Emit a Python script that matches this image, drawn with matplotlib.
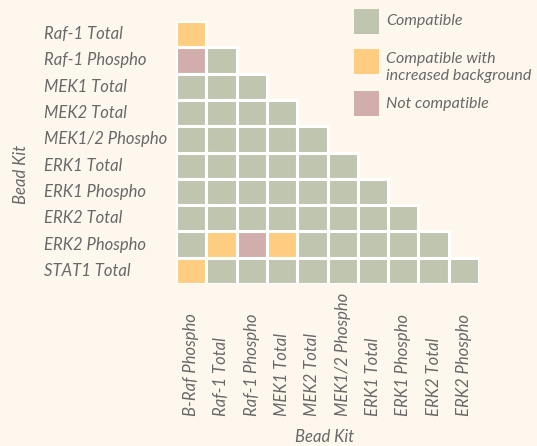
import matplotlib.pyplot as plt
from matplotlib.patches import Rectangle
from matplotlib.transforms import blended_transform_factory

# Data
row_labels = ['Raf-1 Total', 'Raf-1 Phospho', 'MEK1 Total', 'MEK2 Total', 'MEK1/2 Phospho',
              'ERK1 Total', 'ERK1 Phospho', 'ERK2 Total', 'ERK2 Phospho', 'STAT1 Total']
col_labels = ['B-Raf Phospho', 'Raf-1 Total', 'Raf-1 Phospho', 'MEK1 Total', 'MEK2 Total',
              'MEK1/2 Phospho', 'ERK1 Total', 'ERK1 Phospho', 'ERK2 Total', 'ERK2 Phospho']
# 0 = compatible, 1 = increased background, 2 = not compatible (lower triangle only)
status = [
    [1],
    [2, 0],
    [0, 0, 0],
    [0, 0, 0, 0],
    [0, 0, 0, 0, 0],
    [0, 0, 0, 0, 0, 0],
    [0, 0, 0, 0, 0, 0, 0],
    [0, 0, 0, 0, 0, 0, 0, 0],
    [0, 1, 2, 1, 0, 0, 0, 0, 0],
    [1, 0, 0, 0, 0, 0, 0, 0, 0, 0],
]
legend_labels = ['Compatible', 'Compatible with\nincreased background', 'Not compatible']
colors = ['#c0c5b0', '#fecd81', '#d1aeab']

txt_color = '#686868'
font = dict(family='Lato', style='italic', weight='normal', color=txt_color)
fs = 12

W, H = 537, 446
fig = plt.figure(figsize=(W / 100, H / 100), dpi=100)
fig.patch.set_facecolor('#fdf7ee')

ax = fig.add_axes([176 / W, 1 - 284 / H, 303 / W, 263 / H])
ax.set_xlim(0, 10)
ax.set_ylim(10, 0)
ax.axis('off')

for r, row in enumerate(status):
    for c, s in enumerate(row):
        ax.add_patch(Rectangle((c, r), 1, 1, facecolor=colors[s],
                               edgecolor='white', linewidth=2.2))

# row labels
tr_y = blended_transform_factory(fig.transFigure, ax.transData)
for r, lab in enumerate(row_labels):
    ax.text(44 / W, r + 0.5, lab, transform=tr_y, ha='left', va='center',
            fontsize=fs, **font)

# column labels
tr_x = blended_transform_factory(ax.transData, fig.transFigure)
for c, lab in enumerate(col_labels):
    ax.text(c + 0.5, 1 - 416 / H, lab, transform=tr_x, rotation=90,
            ha='center', va='bottom', fontsize=fs, **font)

fig.text(325 / W, 1 - 437 / H, 'Bead Kit', ha='center', va='center', fontsize=fs, **font)
fig.text(21 / W, 1 - 174 / H, 'Bead Kit', ha='center', va='center', rotation=90,
         fontsize=fs, **font)

# legend
leg_y = [21.5, 61.5, 104]
for y, lab, col in zip(leg_y, legend_labels, colors):
    fig.patches.append(Rectangle((354 / W, 1 - (y + 12.5) / H), 25 / W, 25 / H,
                                 facecolor=col, edgecolor='none', transform=fig.transFigure))
    if '\n' in lab:
        fig.text(386 / W, 1 - (y + 6) / H, lab, ha='left', va='center', fontsize=11.5,
                 linespacing=1.3, **font)
    else:
        fig.text(386 / W, 1 - y / H, lab, ha='left', va='center', fontsize=11.5, **font)

fig.savefig('out.png', dpi=100, facecolor=fig.get_facecolor())
